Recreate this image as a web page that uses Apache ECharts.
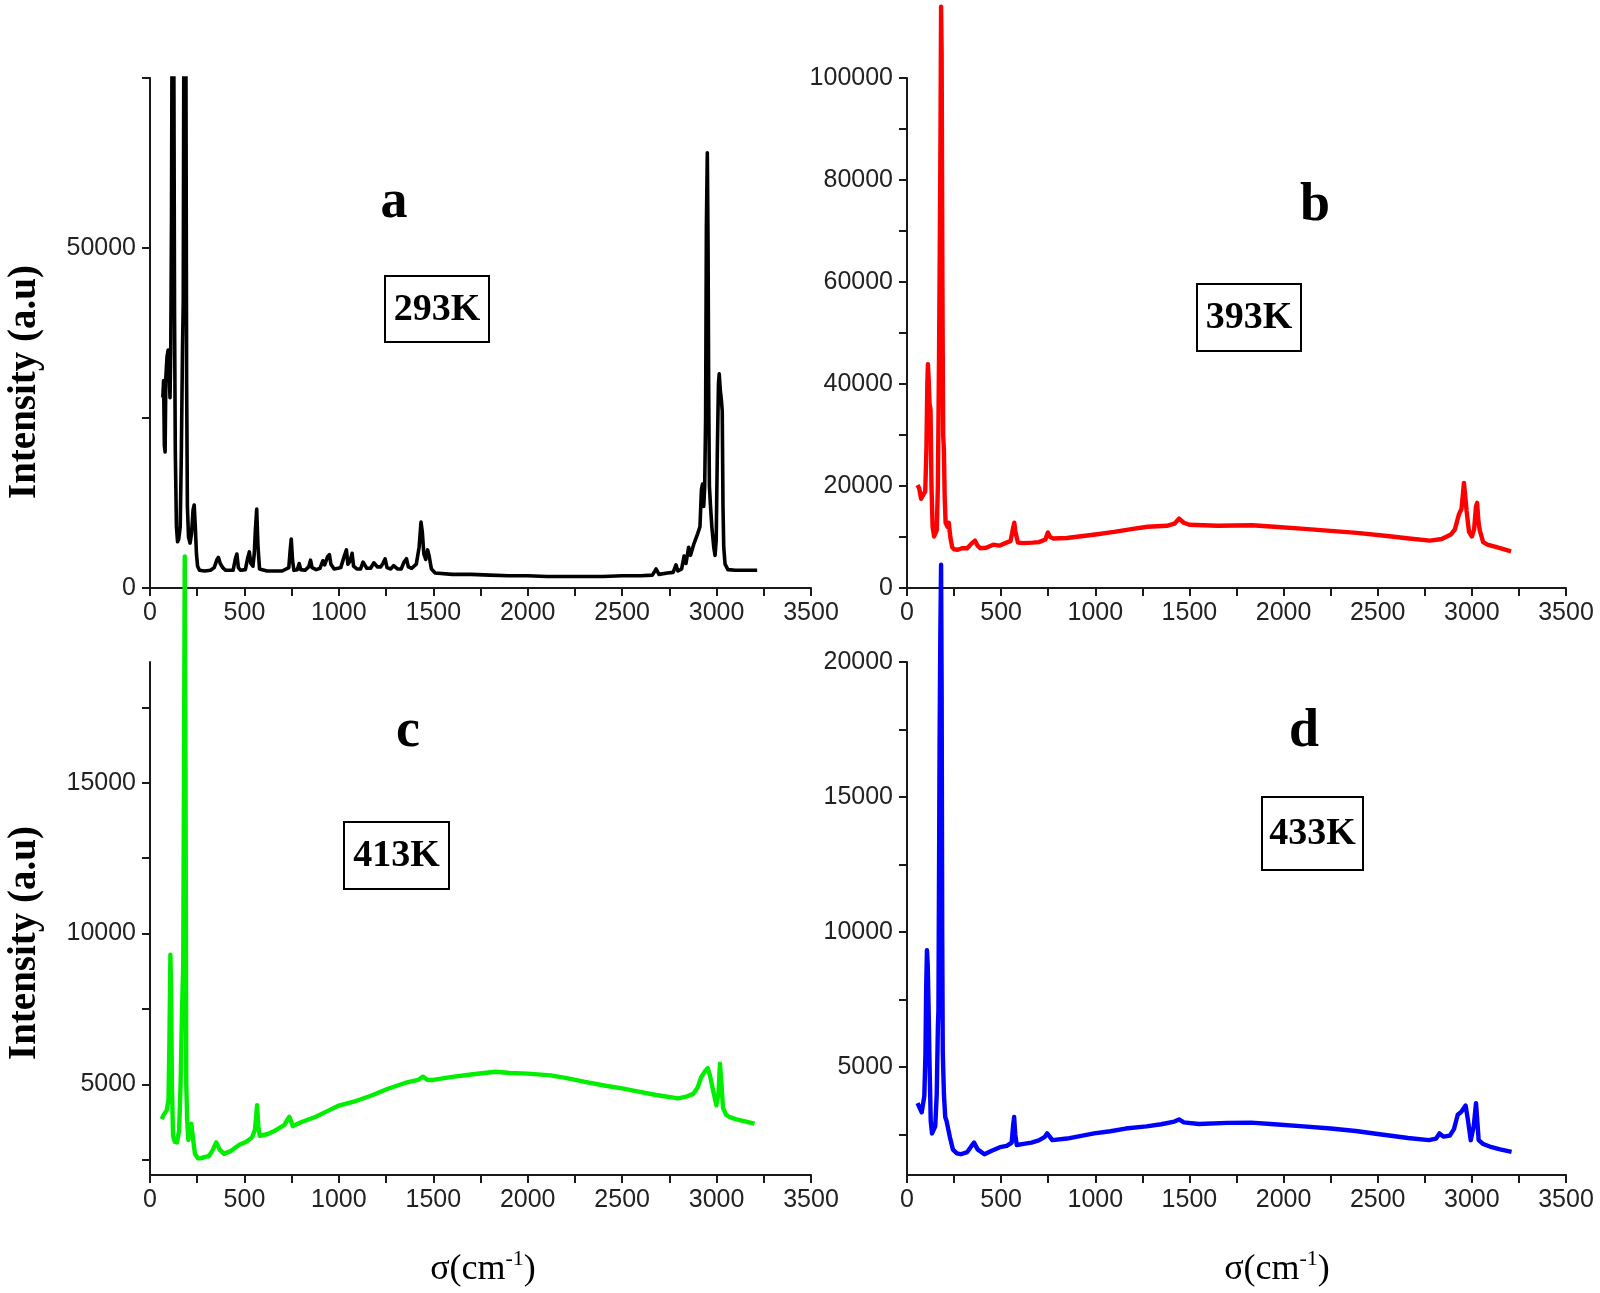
<!DOCTYPE html>
<html>
<head>
<meta charset="utf-8">
<script src="https://cdn.jsdelivr.net/npm/echarts@6/dist/echarts.min.js"></script>
<style>
html,body{margin:0;padding:0;background:#fff;}
#chart{width:1600px;height:1293px;}
</style>
</head>
<body>
<div id="chart"></div>
<script>
// ---------- Data ----------
const panelLetters = ['a', 'b', 'c', 'd'];
const temperatures = ['293K', '393K', '413K', '433K'];
const xTickValues = [0,250,500,750,1000,1250,1500,1750,2000,2250,2500,2750,3000,3250,3500];
const xLabelValues = [0,500,1000,1500,2000,2500,3000,3500];

const yTicksA = [0,25000,50000,75000];
const yLabelsA = [0,50000];
const yTicksB = [0,10000,20000,30000,40000,50000,60000,70000,80000,90000,100000];
const yLabelsB = [0,20000,40000,60000,80000,100000];
const yTicksC = [2500,5000,7500,10000,12500,15000,17500];
const yLabelsC = [5000,10000,15000];
const yTicksD = [2500,5000,7500,10000,12500,15000,17500,20000];
const yLabelsD = [5000,10000,15000,20000];

// 293K (black)
const sigmaA = [68,72,76,80,84,90,96,102,106,110,114,118,122,126,130,134,140,146,152,160,166,172,176,180,186,190,194,198,204,212,220,228,234,240,246,252,262,290,320,340,355,362,372,385,400,440,452,460,468,480,505,518,526,534,545,552,558,565,572,580,620,700,735,742,748,755,762,780,790,798,820,840,850,858,880,900,915,925,940,950,958,975,995,1010,1030,1040,1048,1060,1070,1078,1095,1115,1128,1138,1148,1168,1185,1195,1205,1222,1235,1245,1255,1275,1290,1300,1310,1330,1345,1358,1368,1385,1410,1425,1435,1442,1450,1460,1470,1478,1490,1510,1600,1700,1800,1900,2000,2100,2200,2300,2400,2500,2600,2660,2680,2695,2740,2770,2785,2795,2815,2828,2838,2852,2862,2880,2900,2912,2920,2926,2932,2937,2942,2946,2951,2955,2958,2962,2968,2975,2985,2992,2998,3004,3010,3014,3020,3026,3030,3034,3038,3045,3060,3100,3150,3215];
const intensityA = [28000,30500,21000,20000,31000,34000,35000,31000,28000,35000,55000,95000,120000,80000,40000,20000,9000,6800,7200,9000,20000,35000,42000,90000,120000,80000,30000,12000,7500,6600,8000,11500,12200,9000,5000,3200,2600,2500,2600,3000,4200,4500,3600,3000,2600,2600,4300,5000,3000,2600,2700,4500,5300,3600,3200,5000,8500,11600,6000,2800,2500,2500,3000,5500,7200,4000,2600,2700,3600,2700,2600,3100,4100,3000,2700,2900,4000,3400,4600,4900,3500,2800,2900,3000,4800,5600,3500,4000,5100,3200,2800,2800,3800,3900,2900,2900,3700,3900,3100,3100,3700,4300,3000,2800,3300,3300,2800,2800,3800,4300,3100,2900,3500,6000,9700,8200,5000,4200,5600,4700,2800,2200,2000,2000,1900,1800,1800,1700,1700,1700,1700,1800,1800,1900,2800,2000,2200,2300,3400,2500,2800,4700,3600,6000,4800,6500,8000,9000,14500,15300,12000,14800,25000,53000,64000,50000,30000,15000,12000,9000,6000,4800,7000,20000,30000,31500,29000,27500,26000,12000,6000,3500,2700,2600,2600,2600];

// 393K (red)
const sigmaB = [56,65,75,85,97,103,108,111,115,120,125,130,136,144,152,158,164,170,174,178,181,184,188,192,196,200,205,215,222,230,240,250,270,292,320,345,361,375,389,420,458,490,528,550,562,570,576,589,620,667,700,735,748,760,778,850,1000,1100,1200,1278,1380,1420,1445,1470,1500,1650,1833,1950,2111,2250,2389,2550,2667,2778,2840,2889,2910,2931,2945,2958,2965,2972,2985,3000,3012,3022,3028,3035,3042,3060,3083,3150,3208];
const intensityB = [20200,19500,17500,17800,19000,27000,40000,43900,41000,36000,35000,20000,12000,10100,10800,11300,20000,45000,66000,90000,114000,105000,60000,30000,27000,18000,12800,12000,12800,10000,8000,7600,7500,7800,7800,8800,9300,8300,7800,7900,8500,8300,8900,9200,11500,12800,11000,8900,8800,8900,9000,9500,10900,10000,9700,9800,10500,11000,11600,12000,12200,12600,13600,12800,12400,12200,12300,12000,11600,11200,10800,10200,9700,9300,9600,10500,11500,14400,15500,20600,18000,15100,11000,10100,11500,16000,16700,13000,11300,9000,8500,7800,7200];

// 413K (green)
const sigmaC = [62,73,89,98,103,108,112,116,122,132,143,154,162,170,176,180,184,188,192,197,203,212,219,228,238,255,270,290,311,330,351,368,392,430,473,510,540,556,567,574,581,620,662,710,738,756,800,878,950,1000,1094,1180,1256,1350,1420,1445,1470,1500,1600,1700,1770,1830,1905,2000,2121,2200,2310,2420,2500,2580,2680,2796,2840,2877,2900,2918,2940,2953,2965,2980,2999,3010,3018,3026,3034,3050,3066,3100,3150,3201];
const intensityC = [3850,4000,4150,4500,6500,9300,8000,5000,3300,3100,3080,3470,5000,7530,9000,15400,22500,16000,5000,3800,3160,3500,3700,3200,2700,2550,2550,2600,2620,2800,3080,2850,2700,2800,3000,3100,3240,3500,4310,3600,3300,3350,3470,3650,3930,3620,3750,3930,4150,4300,4460,4650,4850,5050,5150,5260,5150,5150,5250,5330,5380,5420,5380,5360,5300,5220,5080,4950,4870,4770,4650,4540,4600,4690,4900,5230,5450,5540,5300,4850,4310,4700,5690,5000,4230,4000,3930,3850,3780,3700];

// 433K (blue)
const sigmaD = [56,65,78,92,98,102,106,110,115,120,126,133,142,150,158,164,167,170,173,177,181,184,187,190,196,203,210,217,228,244,265,286,320,340,356,375,411,450,494,530,556,563,569,575,583,620,661,700,730,744,760,772,850,994,1080,1161,1272,1350,1420,1445,1470,1550,1700,1828,1950,2106,2250,2383,2520,2661,2772,2810,2828,2850,2883,2905,2925,2945,2967,2980,2994,3010,3022,3030,3036,3060,3105,3150,3211];
const intensityD = [3660,3600,3320,3920,5500,8000,9330,8800,7100,5000,3000,2540,2600,2800,4000,6500,7100,12000,16900,21000,23600,19000,10000,5550,4000,3150,3000,3060,2400,1940,1800,1770,1850,2050,2200,1950,1770,1900,2030,2080,2200,2800,3150,2500,2110,2150,2200,2280,2400,2540,2400,2290,2350,2540,2620,2720,2800,2880,2980,3060,2950,2890,2930,2940,2880,2800,2720,2630,2500,2370,2290,2350,2540,2420,2460,2700,3230,3350,3570,3000,2290,2800,3660,2900,2290,2150,2030,1950,1860];

const lineColors = ['#000000', '#ff0000', '#00ee00', '#0000ff'];

// ---------- Chart ----------
const pair = (xs, ys) => xs.map((x, i) => [x, ys[i]]);

const grids = [
  {left: 150, top: 78, width: 661, height: 510},
  {left: 907, top: 78, width: 659, height: 510},
  {left: 150, top: 662, width: 661, height: 513},
  {left: 907, top: 662, width: 659, height: 513}
];

const axisColor = '#1a1a1a';
const labelStyle = {fontFamily: 'Liberation Sans, Arial, sans-serif', fontSize: 25, color: '#222', formatter: v => String(v)};

function xAxisFor(i) {
  return {
    gridIndex: i, type: 'value', min: 0, max: 3500,
    axisLine: {show: true, onZero: false, lineStyle: {color: axisColor, width: 2}},
    axisTick: {show: true, inside: false, length: 8, customValues: xTickValues, lineStyle: {color: axisColor, width: 2}},
    axisLabel: Object.assign({margin: 13, customValues: xLabelValues}, labelStyle),
    splitLine: {show: false}
  };
}
function yAxisFor(i, min, max, ticks, labels) {
  return {
    gridIndex: i, type: 'value', min: min, max: max,
    axisLine: {show: true, onZero: false, lineStyle: {color: axisColor, width: 2}},
    axisTick: {show: true, inside: false, length: 8, customValues: ticks, lineStyle: {color: axisColor, width: 2}},
    axisLabel: Object.assign({margin: 14, customValues: labels}, labelStyle),
    splitLine: {show: false}
  };
}

const seriesData = [pair(sigmaA, intensityA), pair(sigmaB, intensityB), pair(sigmaC, intensityC), pair(sigmaD, intensityD)];

const series = seriesData.map((d, i) => ({
  type: 'line', xAxisIndex: i, yAxisIndex: i, data: d,
  showSymbol: false, symbol: 'none', clip: i === 0,
  lineStyle: {color: lineColors[i], width: i === 0 ? 3.6 : 4.4, join: 'round'},
  itemStyle: {color: lineColors[i]}, z: 3 + i
}));

const serif = 'Liberation Serif, Times New Roman, serif';
const letterPos = [[394, 203], [1315, 206], [408, 732], [1304, 732]];
const boxPos = [[385, 276, 104, 66], [1197, 284, 104, 67], [344, 822, 105, 67], [1262, 797, 101, 73]];

const graphics = [];
panelLetters.forEach((t, i) => {
  graphics.push({type: 'text', x: letterPos[i][0], y: letterPos[i][1], z: 100,
    style: {text: t, font: 'bold 54px ' + serif, fill: '#000', textAlign: 'center', textVerticalAlign: 'middle'}});
  const b = boxPos[i];
  graphics.push({type: 'rect', shape: {x: b[0], y: b[1], width: b[2], height: b[3]}, z: 100,
    style: {fill: '#fff', stroke: '#000', lineWidth: 2}});
  graphics.push({type: 'text', x: b[0] + b[2] / 2, y: b[1] + b[3] / 2 + 1, z: 101,
    style: {text: temperatures[i], font: 'bold 38px ' + serif, fill: '#000', textAlign: 'center', textVerticalAlign: 'middle'}});
});
[[25, 382], [25, 943]].forEach(p => {
  graphics.push({type: 'text', x: p[0], y: p[1], rotation: Math.PI / 2, z: 100,
    style: {text: 'Intensity (a.u)', font: 'bold 39px ' + serif, fill: '#000', textAlign: 'center', textVerticalAlign: 'middle'}});
});
[[483, 1268], [1277, 1268]].forEach(p => {
  graphics.push({type: 'text', x: p[0], y: p[1], z: 100,
    style: {text: '{n|σ(cm}{s|-1}{n|)}', textAlign: 'center', textVerticalAlign: 'middle', fill: '#000',
      rich: {
        n: {fontFamily: serif, fontSize: 36, lineHeight: 40, verticalAlign: 'bottom', fill: '#000'},
        s: {fontFamily: serif, fontSize: 22, lineHeight: 40, verticalAlign: 'top', fill: '#000', padding: [0, 0, 0, 0]}
      }}});
});

const chart = echarts.init(document.getElementById('chart'), null, {renderer: 'canvas'});
chart.setOption({
  animation: false,
  backgroundColor: '#ffffff',
  grid: grids,
  xAxis: [0, 1, 2, 3].map(xAxisFor),
  yAxis: [
    yAxisFor(0, 0, 75000, yTicksA, yLabelsA),
    yAxisFor(1, 0, 100000, yTicksB, yLabelsB),
    yAxisFor(2, 2000, 19000, yTicksC, yLabelsC),
    yAxisFor(3, 1000, 20000, yTicksD, yLabelsD)
  ],
  series: series,
  graphic: graphics
});
</script>
</body>
</html>
